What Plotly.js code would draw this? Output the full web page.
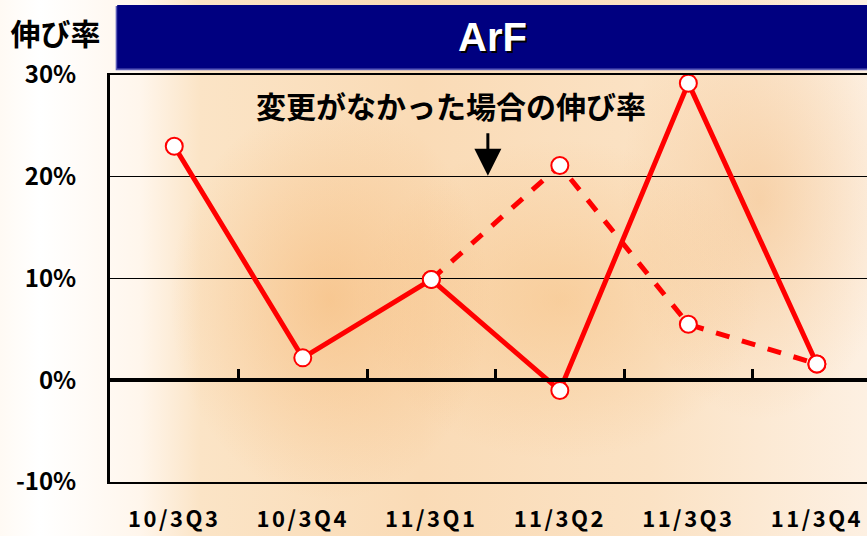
<!DOCTYPE html>
<html>
<head>
<meta charset="utf-8">
<script src="https://cdn.plot.ly/plotly-3.0.1.min.js"></script>
<style>
html,body{margin:0;padding:0;}
body{width:867px;height:536px;overflow:hidden;
background:
 radial-gradient(ellipse 160px 200px at 330px 300px, rgba(245,180,110,0.55), rgba(245,180,110,0) 100%),
 radial-gradient(ellipse 200px 160px at 560px 300px, rgba(245,185,115,0.45), rgba(245,185,115,0) 100%),
 radial-gradient(ellipse 140px 220px at 760px 200px, rgba(240,175,105,0.40), rgba(240,175,105,0) 100%),
 linear-gradient(to right, #fffaf4 0px, #ffffff 40px, #fff6ec 140px, #fbe4c6 200px, #fadbb6 420px, #fbe2c4 650px, #fdf0e2 867px);}
#chart{width:867px;height:536px;}
#chart .xtick text{letter-spacing:2.5px;}
</style>
</head>
<body>
<div id="chart"></div>
<script>
const categories = ["10/3Q3","10/3Q4","11/3Q1","11/3Q2","11/3Q3","11/3Q4"];
const actualGrowth = [23.0, 2.2, 9.9, -1.0, 29.2, 1.6];
const unchangedGrowth = [null, null, 9.9, 21.1, 5.5, 1.6];
const yTickVals = [-10, 0, 10, 20, 30];
const yTickText = ["-10%","0%","10%","20%","30%"];
const boundaryTicks = [-0.5, 0.5, 1.5, 2.5, 3.5, 4.5];

const FONT = "'Noto Sans CJK JP', 'Noto Sans', sans-serif";

const traces = [
  {x: categories, y: unchangedGrowth, type: 'scatter', mode: 'lines+markers',
   line: {color: '#ff0000', width: 5, dash: '14px,13px'},
   marker: {size: 17, color: '#ffffff', line: {color: '#ff0000', width: 2}},
   connectgaps: false, hoverinfo: 'skip', showlegend: false},
  {x: categories, y: actualGrowth, type: 'scatter', mode: 'lines+markers',
   line: {color: '#ff0000', width: 5},
   marker: {size: 17, color: '#ffffff', line: {color: '#ff0000', width: 2}},
   hoverinfo: 'skip', showlegend: false},
  {x: [0], y: [0], xaxis: 'x2', type: 'scatter', mode: 'markers',
   marker: {opacity: 0}, hoverinfo: 'skip', showlegend: false}
];

const layout = {
  width: 867, height: 536,
  margin: {l: 110, r: 0, t: 75, b: 54},
  paper_bgcolor: 'rgba(0,0,0,0)', plot_bgcolor: 'rgba(0,0,0,0)',
  font: {family: FONT, color: '#000', size: 18},
  title: {text: '<b>伸び率</b>', x: 0.012, xanchor: 'left', xref: 'container',
          y: 1 - 34/536, yanchor: 'middle', yref: 'container',
          font: {family: FONT, size: 30, color: '#000'}},
  xaxis: {type: 'category', range: [-0.5, 5.39], showgrid: false, zeroline: false,
          showline: true, linecolor: '#000', linewidth: 2, mirror: true,
          ticks: '', ticklabelstandoff: 17,
          tickfont: {family: FONT, size: 22, color: '#000', weight: 'bold'}},
  xaxis2: {overlaying: 'x', anchor: 'free', position: 0.25, range: [-0.5, 5.39],
           showgrid: false, zeroline: false, showline: true, linecolor: '#000', linewidth: 4,
           ticks: 'inside', ticklen: 9, tickwidth: 3, tickcolor: '#000',
           tickmode: 'array', tickvals: boundaryTicks, showticklabels: false},
  yaxis: {range: [-10, 30], tickmode: 'array', tickvals: yTickVals, ticktext: yTickText,
          showgrid: true, gridcolor: '#000', gridwidth: 1, zeroline: false,
          showline: true, linecolor: '#000', linewidth: 3, ticks: '',
          ticklabelstandoff: 26,
          tickfont: {family: FONT, size: 24, color: '#000', weight: 'bold'}},
  shapes: [
    {type: 'rect', xref: 'paper', yref: 'paper', x0: 0.0075, x1: 1.0, y0: 1.0115, y1: 1.1695,
     fillcolor: '#5a5ab8', line: {width: 0}, layer: 'below'},
    {type: 'rect', xref: 'paper', yref: 'paper', x0: 0.0095, x1: 1.0, y0: 1.0160, y1: 1.1720,
     fillcolor: '#000080', line: {width: 0}, layer: 'below'}
  ],
  annotations: [
    {xref: 'paper', yref: 'paper', x: (492-110)/757, y: (482-37)/407, yanchor: 'middle', xanchor: 'center',
     showarrow: false, text: '<b>ArF</b>',
     font: {family: "'Liberation Sans', Arial, sans-serif", size: 40, color: '#ffffff',
            shadow: '2px 2px 0px #000'}},
    {x: 2.15, y: 27.1, xref: 'x', yref: 'y', showarrow: false, yanchor: 'middle',
     text: '<b>変更がなかった場合の伸び率</b>', font: {family: FONT, size: 30, color: '#000'}},
    {x: 2.44, y: 20.1, xref: 'x', yref: 'y', showarrow: true, text: '',
     ax: 0, ay: -44, axref: 'pixel', ayref: 'pixel',
     arrowhead: 2, arrowsize: 1.8, arrowwidth: 3, arrowcolor: '#000', standoff: 0}
  ]
};

Plotly.newPlot('chart', traces, layout, {staticPlot: true, displayModeBar: false});
</script>
</body>
</html>
